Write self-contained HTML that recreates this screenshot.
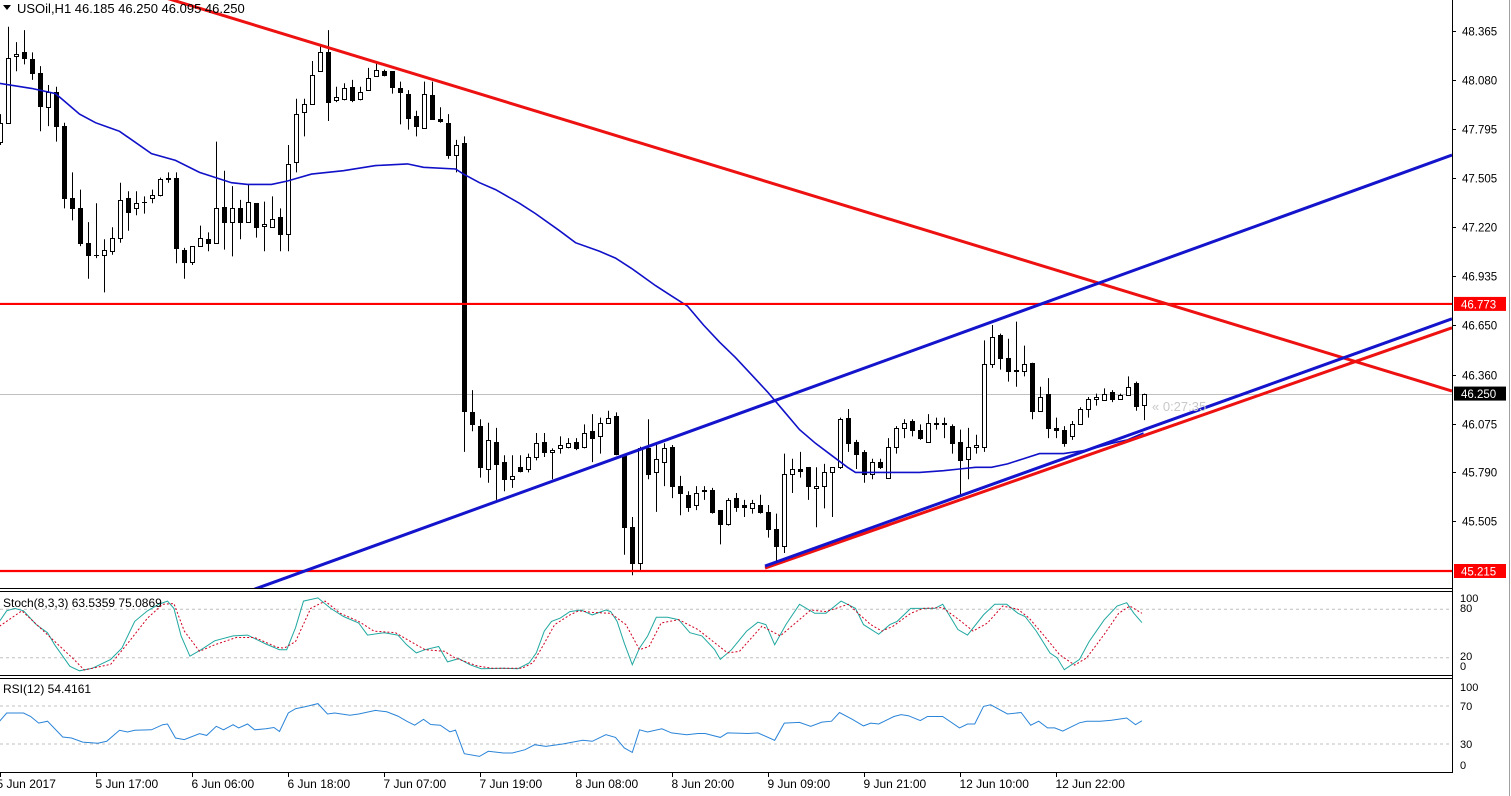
<!DOCTYPE html>
<html><head><meta charset="utf-8">
<style>
html,body{margin:0;padding:0;background:#fff;overflow:hidden}
svg{display:block;font-family:"Liberation Sans",sans-serif}
</style></head>
<body>
<svg id="chart" width="1511" height="796" viewBox="0 0 1511 796" xmlns="http://www.w3.org/2000/svg">
<defs><clipPath id="mainClip"><rect x="0" y="0" width="1452" height="588"/></clipPath></defs>
<rect x="0" y="0" width="1511" height="796" fill="#fff"/>
<g id="mainGrid"></g>
<g id="candles" clip-path="url(#mainClip)"></g>
<g id="overlays" clip-path="url(#mainClip)"></g>
<g id="stochG"></g>
<g id="rsiG"></g>
<g id="axes"></g>
</svg>
<script>
// ---- data ----
const open=[47.72,47.83,48.22,48.24,48.20,48.12,47.92,48.01,47.81,47.39,47.33,47.13,47.06,47.06,47.08,47.16,47.39,47.33,47.37,47.39,47.41,47.50,47.51,47.09,47.02,47.11,47.15,47.13,47.34,47.25,47.33,47.25,47.36,47.23,47.22,47.28,47.18,47.60,47.89,47.94,48.13,48.24,47.96,47.97,48.04,47.97,48.02,48.10,48.13,48.13,48.03,48.00,47.87,47.80,47.99,47.85,47.83,47.64,47.71,46.14,46.06,45.81,45.97,45.85,45.75,45.82,45.81,45.88,45.97,45.91,45.93,45.94,45.97,45.94,46.03,46.00,46.08,46.12,45.89,45.47,45.26,45.93,45.79,45.85,45.94,45.71,45.66,45.60,45.69,45.69,45.57,45.49,45.64,45.60,45.58,45.60,45.56,45.46,45.36,45.78,45.81,45.82,45.70,45.71,45.79,45.82,46.11,45.97,45.91,45.78,45.85,45.76,45.94,46.05,46.09,46.04,45.97,46.08,46.08,46.06,45.97,45.87,45.94,45.94,46.42,46.59,46.46,46.38,46.38,46.43,46.15,46.25,46.05,46.04,46.00,46.07,46.16,46.22,46.21,46.26,46.22,46.24,46.31,46.185];
const high=[47.88,48.39,48.30,48.37,48.24,48.16,48.05,48.04,47.83,47.54,47.44,47.25,47.36,47.15,47.22,47.48,47.43,47.43,47.40,47.44,47.51,47.54,47.54,47.10,47.11,47.23,47.19,47.72,47.55,47.46,47.38,47.47,47.36,47.37,47.40,47.33,47.70,47.97,47.97,48.19,48.28,48.37,48.04,48.06,48.08,48.04,48.15,48.18,48.14,48.13,48.07,48.02,47.90,48.07,48.07,47.92,47.88,47.73,47.75,46.27,46.10,46.08,46.05,45.89,45.89,45.89,45.90,46.02,46.02,45.93,46.00,45.99,45.99,46.07,46.13,46.11,46.15,46.14,45.89,45.53,45.94,46.10,45.95,45.96,45.95,45.77,45.68,45.71,45.71,45.70,45.57,45.64,45.67,45.63,45.63,45.66,45.60,45.55,45.90,45.87,45.91,45.82,45.82,45.84,45.82,46.11,46.16,45.98,45.92,45.87,45.87,45.99,46.06,46.10,46.10,46.07,46.13,46.11,46.11,46.07,46.04,46.05,46.01,46.56,46.65,46.60,46.57,46.67,46.53,46.43,46.29,46.34,46.11,46.06,46.09,46.17,46.23,46.25,46.28,46.27,46.25,46.35,46.32,46.25];
const low=[47.70,47.83,48.13,48.17,48.08,47.78,47.81,47.72,47.33,47.26,47.11,46.92,47.04,46.84,47.06,47.13,47.20,47.29,47.30,47.36,47.40,47.48,47.01,46.92,47.00,47.11,47.08,47.13,47.09,47.05,47.15,47.25,47.16,47.08,47.22,47.08,47.08,47.54,47.75,47.94,48.13,47.84,47.95,47.96,47.95,47.96,48.02,48.10,48.10,48.00,47.82,47.79,47.75,47.80,47.85,47.83,47.62,47.54,45.91,46.03,45.76,45.73,45.63,45.68,45.70,45.79,45.79,45.86,45.88,45.75,45.90,45.93,45.92,45.93,45.85,45.90,46.08,45.89,45.31,45.19,45.22,45.75,45.56,45.71,45.64,45.54,45.56,45.57,45.63,45.55,45.37,45.48,45.56,45.53,45.55,45.55,45.41,45.27,45.32,45.67,45.76,45.63,45.47,45.58,45.53,45.81,45.91,45.81,45.73,45.75,45.81,45.76,45.90,45.99,46.00,45.98,45.97,46.04,45.99,45.90,45.65,45.75,45.90,45.91,46.40,46.39,46.32,46.29,46.35,46.10,46.15,45.99,45.99,45.94,45.98,46.07,46.11,46.18,46.21,46.20,46.22,46.24,46.15,46.095];
const close=[47.83,48.21,48.23,48.21,48.12,47.93,48.01,47.81,47.39,47.33,47.13,47.06,47.06,47.09,47.16,47.38,47.31,47.36,47.37,47.41,47.50,47.51,47.10,47.02,47.11,47.16,47.13,47.33,47.25,47.33,47.25,47.37,47.22,47.24,47.27,47.18,47.59,47.88,47.94,48.11,48.24,47.95,47.98,48.03,47.96,48.01,48.09,48.14,48.11,48.04,48.01,47.86,47.81,48.00,47.85,47.84,47.64,47.70,46.15,46.07,45.82,45.98,45.84,45.75,45.77,45.80,45.88,45.96,45.91,45.92,45.95,45.96,45.93,46.02,45.99,46.08,46.11,45.90,45.47,45.26,45.93,45.78,45.87,45.93,45.71,45.67,45.59,45.67,45.68,45.56,45.49,45.63,45.59,45.59,45.61,45.56,45.46,45.36,45.78,45.81,45.80,45.71,45.71,45.79,45.82,46.10,45.96,45.90,45.78,45.85,45.82,45.94,46.05,46.08,46.04,45.99,46.08,46.07,46.07,45.96,45.86,45.94,45.95,46.42,46.58,46.46,46.38,46.39,46.42,46.15,46.23,46.05,46.04,45.96,46.07,46.16,46.22,46.23,46.25,46.22,46.24,46.29,46.18,46.25];
const maIdx=[0,4,7,8,10,12,15,19,22,25,29,31,34,36,39,43,47,51,53,57,58,60,62,65,67,70,72,75,77,79,82,84,86,88,90,92,94,96,98,100,102,104,106,107,110,112,115,118,120,122,124,126,128,130,133,136,139,141,143];
const maVal=[48.06,48.03,48.00,47.96,47.88,47.83,47.78,47.65,47.61,47.54,47.48,47.47,47.47,47.49,47.53,47.55,47.58,47.59,47.57,47.56,47.53,47.48,47.44,47.36,47.30,47.20,47.13,47.08,47.04,46.98,46.88,46.82,46.76,46.65,46.55,46.46,46.36,46.26,46.15,46.04,45.96,45.89,45.82,45.79,45.79,45.79,45.79,45.80,45.81,45.82,45.82,45.84,45.87,45.90,45.90,45.92,45.96,45.98,46.02];
const kIdx=[0,0.9,1.9,3,4.6,6,6.9,8.8,10,11.6,13.9,15.3,16.9,18.5,19.9,21,21.8,22.7,23.8,25.2,26.9,29.2,31,33.3,35,35.9,37,38,39.8,41.4,43,44.9,46,48.1,49.8,50.9,52.1,53.2,54.9,56,57.4,58.8,60.2,63,64.8,66.2,67.1,68.1,69,70.1,71.3,72.7,74.1,75.8,76.4,77.2,78.1,79.1,80,81,82.1,83.5,84.9,86.3,87.8,89.4,90.1,91.5,93.4,94.8,95.8,96.9,98.3,100,101.9,103.3,105.2,107,108,109.9,111.3,112.2,113.9,115.5,116.9,117.9,119.8,121,123,124.4,125.9,127.3,128.2,129.6,131.3,132.2,133.1,135,136.2,138.1,139.7,140.9,141.8,142.8];
const kVal=[65,78,81,78,61,51,36,9.5,4,7,18,32,65,78,86,90,81,47,22,30,41,47,48,37,30,30,57,90,94,81,71,63,48,51,48,36,26,30,34,15,19,11.5,6.5,7,6.5,13.6,26,53,65,69,77,79,73,79,77,65,38,11.5,32,46.5,70,70,67,51,47,30,18,30,53,64,61,36,61,86,75,75,90,81,61,49,61,65,81,81,81,86,55,48,73,86,86,75,71,53,26,20,5.3,18,40,67,84,88,75,63.5];
const dIdx=[0,2.8,9.3,10.6,13.9,16.2,18.5,20.4,21.8,23.1,25,26.9,29.6,31.9,34.7,35.6,37,38.9,40.7,42.6,44.9,46.8,49.5,51.4,53.2,55.6,56.9,59.7,61.6,65.3,66.7,68,69.4,71.3,72.4,74.1,76.4,78.3,80,81.2,82.7,84.9,87.3,91,92.5,95.3,97.6,99.5,101.4,103.3,106.1,108.9,110.3,111.7,113.9,115.5,117.9,120.2,121.7,123.5,125.4,127.3,128.7,130.6,132.5,134.4,135.9,138.1,139.9,141.3,142.8];
const dVal=[59,78,18,5,12,40,69,86,87,53,28,36,45,45,33,32,40,81,90,75,65,53,51,40,30,28,20,10,7,7,14,36,61,73,78,76,75,61,30,34,63,67,55,26,28,59,47,63,79,77,86,61,53,59,75,81,82,65,53,63,84,80,69,47,24,11,20,49,75,84,75];
const rIdx=[0,0.9,3,3.9,4.9,6,7.9,9,10.4,12.3,13.4,15,16,16.9,19,20.4,21,22,23.1,25,25.9,27.1,28,29.2,29.9,31,31.9,33.3,34.3,35,36.1,37,38.4,39.8,41,41.9,43.8,44.9,47,48.4,49.8,50.9,51.9,53,53.9,55.1,56.3,57,58.1,60,61.1,63,64.1,65.7,66.9,68.3,70.4,72.9,74.1,75.8,77,78.1,79.1,80,81,82.8,84,85.9,87.3,88.2,90.1,91,93.6,94.8,96.9,98.1,100,101.4,102.8,104,105,106.6,108,108.9,109.9,111.8,112.7,113.6,115.1,116,117.9,120,121,121.9,123,123.9,126,127.7,128.9,129.9,131,131.9,132.9,135,135.9,137.6,139,140.9,142,142.8];
const rVal=[53.9,62.6,62.6,59,52,54,37.4,36.3,32,30.7,32.8,44.4,42.6,44.4,45,50.3,51,36.3,34.6,40.9,39.1,48.6,45,50.3,47,51,45,46,47.4,43.2,62.6,67.2,69.6,72.5,61.6,62.6,60.2,61.6,65.4,63.9,59.4,54,49.8,56,50.5,49.8,42.8,44.6,19.8,17,22.3,20.5,20.5,24,29.3,27.5,30,33.9,32.8,39.8,37,25.8,21.2,45,42.6,46,41.7,39.8,41,41,37,41.7,41,41.7,33.9,52,52.7,48.6,53,54,63.2,56,49.1,52,51,59,60.9,59.8,54.6,59,59,47,51,51,69.6,71.3,61.6,63.2,49.8,54,47,47,43.6,52.3,54,54,55,57.4,50.3,54.4];
const priceTicks=[48.365,48.080,47.795,47.505,47.220,46.935,46.650,46.360,46.075,45.790,45.505];
const timeLabels=["5 Jun 2017","5 Jun 17:00","6 Jun 06:00","6 Jun 18:00","7 Jun 07:00","7 Jun 19:00","8 Jun 08:00","8 Jun 20:00","9 Jun 09:00","9 Jun 21:00","12 Jun 10:00","12 Jun 22:00"];
const timeLabelIdx=[0,12,24,36,48,60,72,84,96,108,120,132];
const hLevels=[46.773,45.215];
const currentPrice=46.250;
const trendRedDown=[40.06,48.283,181.56,46.265];
const trendBlueUpper=[55.06,45.501,105.06,46.347];
const trendBlueLower=[95.69,45.244,145.06,46.073];
const trendRedLower=[95.69,45.232,145.06,46.038];

const AX=1452;
const X=i=>8*i-0.5;
const Y=p=>31+(48.365-p)*171.43;
const SY=v=>674-v*0.81;
const RY=v=>772.5-v*0.95;
const NS="http://www.w3.org/2000/svg";
function mk(tag,attrs,parent){const e=document.createElementNS(NS,tag);for(const k in attrs)e.setAttribute(k,attrs[k]);parent.appendChild(e);return e;}
const candles=document.getElementById('candles');
const overlays=document.getElementById('overlays');
const axes=document.getElementById('axes');
const stochG=document.getElementById('stochG');
const rsiG=document.getElementById('rsiG');

let cl=mk('line',{x1:0,x2:AX,y1:Math.round(Y(currentPrice))+0.5,y2:Math.round(Y(currentPrice))+0.5,stroke:'#c0c0c0','stroke-width':1},document.getElementById('mainGrid'));



for(let i=0;i<close.length;i++){
  const cx=Math.round(X(i))+0.5;
  const g=mk('g',{},candles);
  
  
  mk('line',{x1:cx,x2:cx,y1:Y(high[i]),y2:Y(low[i]),stroke:'#000','stroke-width':1},g);
  const top=Math.round(Y(Math.max(open[i],close[i])));
  const bot=Math.round(Y(Math.min(open[i],close[i])));
  const bull=close[i]>=open[i];
  if(bot-top<1){
    mk('line',{x1:cx-2.5,x2:cx+2.5,y1:top+0.5,y2:top+0.5,stroke:'#000','stroke-width':1},g);
  } else {
    mk('rect',{x:cx-2,y:top+0.5,width:4,height:bot-top,fill:bull?'#fff':'#000',stroke:'#000','stroke-width':1},g);
  }
}

let pts=maIdx.map((d,k)=>X(d).toFixed(1)+','+Y(maVal[k]).toFixed(1)).join(' ');
let ma=mk('polyline',{points:pts,fill:'none',stroke:'#1010c8','stroke-width':1.6},overlays);



hLevels.forEach(p=>{
  const l=mk('line',{x1:0,x2:AX,y1:Y(p),y2:Y(p),stroke:'#ff0000','stroke-width':2.2},overlays);
  
  
});

function trend(t,color,name,extendLeft){
  const [i1,p1,i2,p2]=t;
  const x1=X(i1),y1=Y(p1),x2=X(i2),y2=Y(p2);
  const s=(y2-y1)/(x2-x1);
  const xs=extendLeft?-50:x1;
  const l=mk('line',{x1:xs,y1:y1+s*(xs-x1),x2:AX,y2:y1+s*(AX-x1),stroke:color,'stroke-width':3},overlays);
  
  
}
trend(trendRedDown,'#ee1111','descending-resistance-trendline',true);
trend(trendBlueUpper,'#1414cc','upper-channel-trendline',true);
trend(trendRedLower,'#ee1111','ascending-support-trendline-red',false);
trend(trendBlueLower,'#1414cc','ascending-support-trendline-blue',false);

let cd=mk('text',{x:1152,y:411,'font-size':13,fill:'#c8c8c8'},overlays);
cd.textContent='« 0:27:35';



let hd=mk('text',{x:17,y:13,'font-size':13,fill:'#000'},axes);
hd.textContent='USOil,H1  46.185 46.250 46.095 46.250';


let tri=mk('polygon',{points:'3,5 11,5 7,10',fill:'#000'},axes);



[[0,588.5],[0,591.5],[0,675.5],[0,678.5],[0,772.5]].forEach(b=>{
  const l=mk('line',{x1:0,x2:AX,y1:b[1],y2:b[1],stroke:'#000','stroke-width':1},axes);
  
  
});
let va=mk('line',{x1:AX+0.5,x2:AX+0.5,y1:0,y2:773,stroke:'#000','stroke-width':1},axes);


let sb=mk('line',{x1:1509.5,x2:1509.5,y1:0,y2:796,stroke:'#a0a0a0','stroke-width':1},axes);



priceTicks.forEach(p=>{
  const y=Math.round(Y(p))+0.5;
  mk('line',{x1:AX,x2:AX+4,y1:y,y2:y,stroke:'#000'},axes);
  const t=mk('text',{x:1462,y:y+4,'font-size':11.5,fill:'#000'},axes);
  t.textContent=p.toFixed(3);
  
  
});
function tag(p,bg,name){
  const y=Y(p);
  mk('rect',{x:1454,y:y-7,width:52,height:14,fill:bg},axes);
  const t=mk('text',{x:1461,y:y+4.5,'font-size':11.5,fill:'#fff'},axes);
  t.textContent=p.toFixed(3);
  
  
}
tag(hLevels[0],'#ff0000','level-price-tag');
tag(hLevels[1],'#ff0000','level-price-tag');
tag(currentPrice,'#000','current-price-tag');

[80,20].forEach(v=>{mk('line',{x1:0,x2:AX,y1:SY(v),y2:SY(v),stroke:'#c0c0c0','stroke-dasharray':'3,3'},stochG);});
let kl=mk('polyline',{points:kIdx.map((d,k)=>X(d).toFixed(1)+','+SY(kVal[k]).toFixed(1)).join(' '),fill:'none',stroke:'#20a8a0','stroke-width':1},stochG);


let dl=mk('polyline',{points:dIdx.map((d,k)=>X(d).toFixed(1)+','+SY(dVal[k]).toFixed(1)).join(' '),fill:'none',stroke:'#d00020','stroke-width':1,'stroke-dasharray':'2,2'},stochG);


let st=mk('text',{x:3,y:607,'font-size':12,fill:'#000'},stochG);
st.textContent='Stoch(8,3,3) 63.5359 75.0869';


[[100,601],[80,611],[20,659],[0,669]].forEach(a=>{
  const t=mk('text',{x:1460,y:a[1]+1,'font-size':11,fill:'#000'},stochG);
  t.textContent=String(a[0]);
  
  
});

[70,30].forEach(v=>{mk('line',{x1:0,x2:AX,y1:RY(v),y2:RY(v),stroke:'#c0c0c0','stroke-dasharray':'3,3'},rsiG);});
let rl=mk('polyline',{points:rIdx.map((d,k)=>X(d).toFixed(1)+','+RY(rVal[k]).toFixed(1)).join(' '),fill:'none',stroke:'#2a84d8','stroke-width':1},rsiG);


let rt=mk('text',{x:3,y:693,'font-size':12,fill:'#000'},rsiG);
rt.textContent='RSI(12) 54.4161';


[[100,691],[70,710],[30,748],[0,769]].forEach(a=>{
  const t=mk('text',{x:1460,y:a[1],'font-size':11,fill:'#000'},rsiG);
  t.textContent=String(a[0]);
  
  
});

timeLabels.forEach((lab,k)=>{
  const x=Math.round(X(timeLabelIdx[k]))+0.5;
  mk('line',{x1:x,x2:x,y1:773,y2:777,stroke:'#000'},axes);
  const t=mk('text',{x:x-(k===0?4:1),y:788,'font-size':12,fill:'#000'},axes);
  t.textContent=lab;
  
  
});
</script>
</body></html>
